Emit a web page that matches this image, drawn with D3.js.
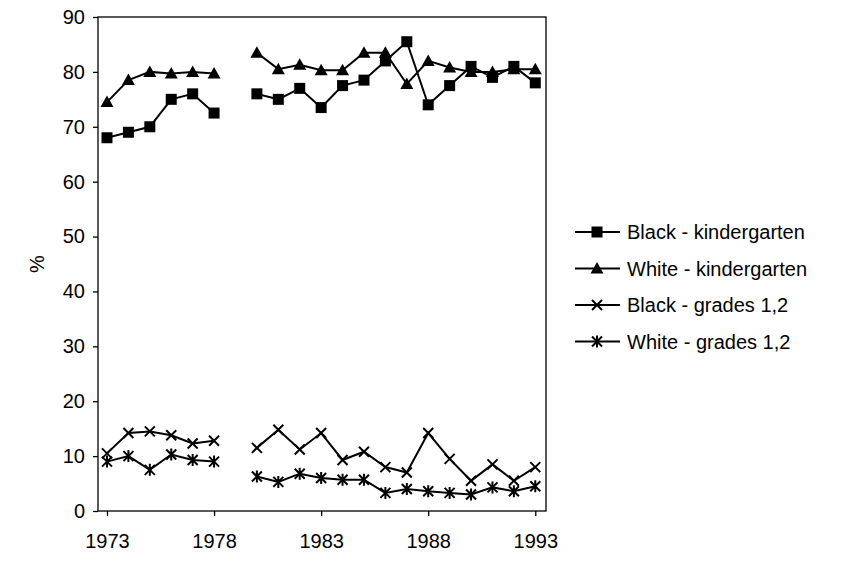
<!DOCTYPE html><html><head><meta charset="utf-8"><script src="https://cdn.jsdelivr.net/npm/d3@7"></script>
<style>body{margin:0;background:#fff}text{font-family:Arial,"Liberation Sans",sans-serif;fill:#000}</style></head><body><svg id="c" width="863" height="566"></svg><script>
const years=[1973,1974,1975,1976,1977,1978,1979,1980,1981,1982,1983,1984,1985,1986,1987,1988,1989,1990,1991,1992,1993];
const blackK=[68,69,70,75,76,72.5,null,76,75,77,73.5,77.5,78.5,82,85.5,74,77.5,81,79,81,78];
const whiteK=[74.5,78.5,80,79.7,80,79.7,null,83.5,80.5,81.3,80.3,80.3,83.5,83.5,77.8,82,80.8,80,80,80.5,80.5];
const blackG=[10.5,14.2,14.5,13.8,12.3,12.8,null,11.5,14.8,11.2,14.2,9.3,10.8,8,7,14.2,9.5,5.5,8.5,5.5,8];
const whiteG=[9,10,7.5,10.3,9.3,9,null,6.3,5.3,6.8,6,5.7,5.7,3.3,4,3.6,3.3,3,4.3,3.6,4.5];
const seriesNames=["Black - kindergarten","White - kindergarten","Black - grades 1,2","White - grades 1,2"];
const yTicks=d3.range(0,91,10), xTicks=[1973,1978,1983,1988,1993];
const svg=d3.select("#c");
const L=98,R=546,T=17,B=511;
const x=d3.scaleLinear().domain([1972.58,1993.5]).range([L,R]);
const y=d3.scaleLinear().domain([0,90]).range([B,T]);
svg.append("rect").attr("x",L).attr("y",T).attr("width",R-L).attr("height",B-T).attr("fill","none").attr("stroke","#000").attr("stroke-width",1.3);
const ya=svg.append("g").attr("transform",`translate(${L},0)`).call(d3.axisLeft(y).tickValues(yTicks).tickSize(5).tickPadding(8));
const xa=svg.append("g").attr("transform",`translate(0,${B})`).call(d3.axisBottom(x).tickValues(xTicks).tickFormat(d3.format("d")).tickSize(5).tickPadding(18));
[ya,xa].forEach(g=>{g.select(".domain").remove();g.selectAll("line").attr("stroke","#000").attr("stroke-width",1.3);g.selectAll("text").style("font-size","20px").attr("fill","#000");});
svg.append("text").attr("transform",`translate(44,${(T+B)/2}) rotate(-90)`).attr("text-anchor","middle").style("font-size","20px").text("%");
function marker(g,type,cx,cy){
 if(type==0) g.append("rect").attr("x",cx-5.5).attr("y",cy-5.5).attr("width",11).attr("height",11).attr("fill","#000");
 else if(type==1) g.append("path").attr("d",`M${cx},${cy-6.5}L${cx+6.5},${cy+5}L${cx-6.5},${cy+5}Z`).attr("fill","#000");
 else if(type==2) g.append("path").attr("d",`M${cx-5},${cy-5}L${cx+5},${cy+5}M${cx-5},${cy+5}L${cx+5},${cy-5}`).attr("stroke","#000").attr("stroke-width",2);
 else g.append("path").attr("d",`M${cx-5},${cy-5}L${cx+5},${cy+5}M${cx-5},${cy+5}L${cx+5},${cy-5}M${cx},${cy-6}L${cx},${cy+6}`).attr("stroke","#000").attr("stroke-width",2);
}
const line=d3.line().defined(d=>d[1]!=null).x(d=>x(d[0])).y(d=>y(d[1]));
[blackK,whiteK,blackG,whiteG].forEach((s,i)=>{
 const data=years.map((yr,j)=>[yr,s[j]]);
 svg.append("path").datum(data).attr("d",line).attr("fill","none").attr("stroke","#000").attr("stroke-width",2);
 const g=svg.append("g");
 data.filter(d=>d[1]!=null).forEach(d=>marker(g,i,x(d[0]),y(d[1])));
});
seriesNames.forEach((n,i)=>{
 const ly=232+i*36.5;
 svg.append("line").attr("x1",575).attr("x2",620).attr("y1",ly).attr("y2",ly).attr("stroke","#000").attr("stroke-width",2);
 marker(svg,i,597,ly);
 svg.append("text").attr("x",627).attr("y",ly+7).style("font-size","20px").text(n);
});
</script></body></html>
